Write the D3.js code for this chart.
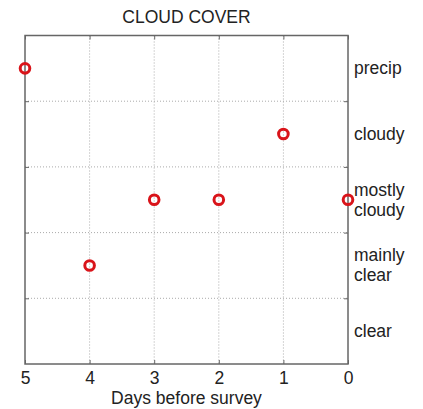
<!DOCTYPE html>
<html><head><meta charset="utf-8">
<script src="https://cdn.jsdelivr.net/npm/d3@7"></script>
<style>body{margin:0;background:#fff;} text{font-family:"Liberation Sans",Arial,sans-serif;}</style>
</head><body><svg id="c" width="423" height="409"></svg>
<script>
const days = [5, 4, 3, 2, 1, 0];
const coverValues = [4.5, 1.5, 2.5, 2.5, 3.5, 2.5];
const xTicks = [5, 4, 3, 2, 1, 0];
const yGrid = [1, 2, 3, 4];
const categoryLabels = [["clear"], ["mainly", "clear"], ["mostly", "cloudy"], ["cloudy"], ["precip"]];
const categoryCenters = [0.5, 1.5, 2.5, 3.5, 4.5];

const svg = d3.select("#c");
const L = 25, R = 348, T = 35.5, B = 364;
const FS = 17.5;
const x = d3.scaleLinear().domain([5, 0]).range([L, R]);
const y = d3.scaleLinear().domain([0, 5]).range([B, T]);
const axisCol = "#666";

// grid
svg.append("g").selectAll("line").data(xTicks.filter(d => d > 0 && d < 5)).join("line")
  .attr("x1", d => x(d)).attr("x2", d => x(d)).attr("y1", T).attr("y2", B)
  .attr("stroke", "#aaa").attr("stroke-dasharray", "1,2").attr("stroke-width", 1);
svg.append("g").selectAll("line").data(yGrid).join("line")
  .attr("x1", L).attr("x2", R).attr("y1", d => y(d)).attr("y2", d => y(d))
  .attr("stroke", "#aaa").attr("stroke-dasharray", "1,2").attr("stroke-width", 1);

// axes
const xb = svg.append("g").attr("transform", `translate(0,${B})`)
  .call(d3.axisBottom(x).tickValues(xTicks).tickFormat(d3.format("d")).tickSizeInner(-4).tickSizeOuter(0).tickPadding(8));
xb.select(".domain").remove();
xb.selectAll("line").attr("stroke", axisCol);
xb.selectAll("text").attr("font-size", FS).attr("fill", "#222").attr("font-family", "Liberation Sans, Arial, sans-serif");
const xt = svg.append("g").attr("transform", `translate(0,${T})`)
  .call(d3.axisTop(x).tickValues(xTicks).tickFormat("").tickSizeInner(-4).tickSizeOuter(0));
xt.select(".domain").remove();
xt.selectAll("line").attr("stroke", axisCol);
const yl = svg.append("g").attr("transform", `translate(${L},0)`)
  .call(d3.axisLeft(y).tickValues(yGrid).tickFormat("").tickSizeInner(-4).tickSizeOuter(0));
yl.select(".domain").remove();
yl.selectAll("line").attr("stroke", axisCol);
const yr = svg.append("g").attr("transform", `translate(${R},0)`)
  .call(d3.axisRight(y).tickValues(yGrid).tickFormat("").tickSizeInner(-4).tickSizeOuter(0));
yr.select(".domain").remove();
yr.selectAll("line").attr("stroke", axisCol);

svg.append("rect").attr("x", L).attr("y", T).attr("width", R - L).attr("height", B - T)
  .attr("fill", "none").attr("stroke", axisCol).attr("stroke-width", 1.5);

// right category labels
const lab = svg.append("g");
categoryLabels.forEach((lines, i) => {
  const cy = y(categoryCenters[i]);
  const t = lab.append("text").attr("x", R + 6).attr("font-size", FS).attr("fill", "#222");
  const n = lines.length;
  lines.forEach((s, j) => {
    t.append("tspan").attr("x", R + 6).attr("y", cy + 6 + (j - (n - 1) / 2) * 20).text(s);
  });
});

// points
svg.append("g").selectAll("circle").data(days).join("circle")
  .attr("cx", (d, i) => x(d)).attr("cy", (d, i) => y(coverValues[i])).attr("r", 4.8)
  .attr("fill", "none").attr("stroke", "#d9141a").attr("stroke-width", 3);

// titles
svg.append("text").attr("x", (L + R) / 2).attr("y", 23).attr("text-anchor", "middle")
  .attr("font-size", FS).attr("fill", "#222").text("CLOUD COVER");
svg.append("text").attr("x", (L + R) / 2).attr("y", 404).attr("text-anchor", "middle")
  .attr("font-size", FS).attr("fill", "#222").text("Days before survey");
</script></body></html>
